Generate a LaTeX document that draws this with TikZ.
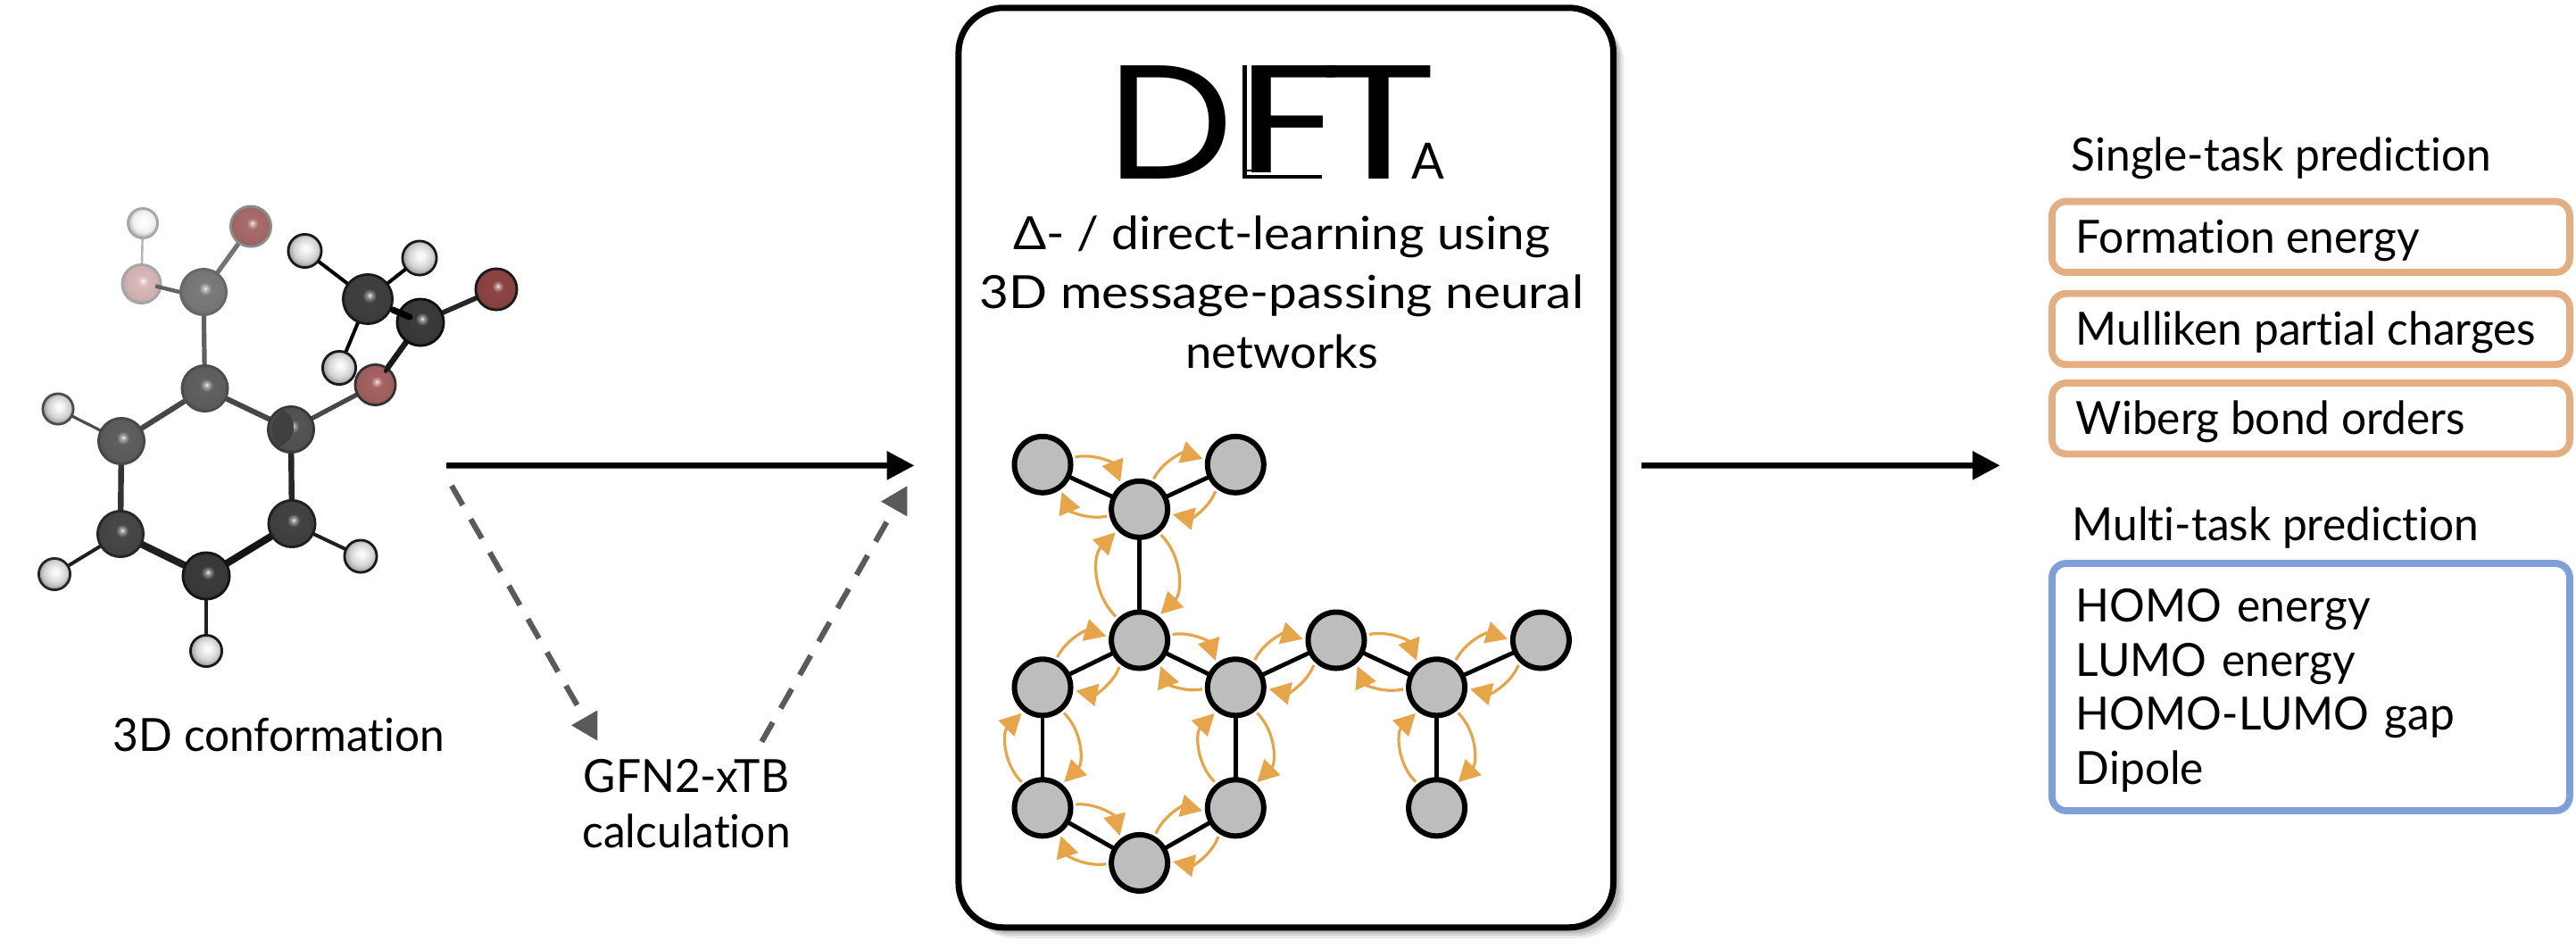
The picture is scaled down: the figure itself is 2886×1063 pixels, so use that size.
\documentclass[tikz,border=0pt]{standalone}
\usepackage{fontspec}
\setmainfont{Lato}[FakeStretch=0.97,Ligatures=NoCommon]
\newfontfamily\logofont{Poppins}
\usetikzlibrary{arrows.meta,shadows,shapes.geometric}
\pgfdeclarelayer{back}\pgfdeclarelayer{edges}\pgfdeclarelayer{front}
\pgfsetlayers{back,edges,main,front}
\colorlet{atomc}{gray}
\pgfdeclareradialshading[atomc]{atomball}{\pgfpoint{2bp}{4bp}}{%
  color(0bp)=(atomc!10!white); color(2.5bp)=(atomc!55!white); color(7bp)=(atomc);
  color(22bp)=(atomc!95!black); color(30bp)=(atomc!80!black); color(50bp)=(atomc!70!black)}
\pgfdeclareradialshading[atomc]{hball}{\pgfpoint{2bp}{4bp}}{%
  color(0bp)=(white); color(7bp)=(atomc!30!white); color(18bp)=(atomc); color(30bp)=(atomc!60!black); color(50bp)=(atomc!40!black)}
\definecolor{msgc}{HTML}{E6A54A}
\definecolor{nodeg}{HTML}{BDBDBD}
\definecolor{taskor}{HTML}{E3AE82}
\definecolor{taskbl}{HTML}{7F9FD9}
\definecolor{dashg}{HTML}{5A5A5A}
\definecolor{oxa}{HTML}{A86B6B}
\definecolor{oxb}{HTML}{D9B8B8}
\definecolor{oxc}{HTML}{A56262}
\definecolor{oxd}{HTML}{8C4444}
\tikzset{
  x=0.25pt,y=0.25pt,
  atom/.style n args={4}{circle,inner sep=0pt,minimum size=#3*0.5pt-0.7pt,draw=#2,line width=#4,
     /utils/exec={\colorlet{atomc}{#1}},shading=atomball},
  hatom/.style n args={4}{atom={#1}{#2}{#3}{#4},shading=hball},
  bondl/.style 2 args={draw=#1,line width=#2},
  gnode/.style={circle,fill=nodeg,draw=black,line width=1.5pt,minimum size=15.75pt,inner sep=0pt,outer sep=1.5pt},
  gedge/.style={draw=black,line width=1.2pt},
  msg/.style={draw=msgc,line width=0.8pt,-{Triangle[length=6pt,width=6.2pt,fill=msgc]}},
  mainarrow/.style={draw=black,line width=1.6pt,-{Triangle[length=7.7pt,width=7.7pt,fill=black]}},
  dasharrow/.style={draw=dashg,line width=1.55pt,dash pattern=on 6.25pt off 4.5pt,-{Triangle[length=7.5pt,width=8pt,fill=dashg]}},
  plain text/.style={inner sep=0pt,font=\fontsize{12.8}{16.7}\selectfont},
  taskbox/.style={draw=#1,line width=1.95pt,rounded corners=4pt,minimum width=145pt,inner ysep=0pt,inner xsep=6.75pt},
  singlebox/.style={taskbox=taskor,minimum height=19.85pt,text height=12pt,text depth=3pt,font=\fontsize{12.8}{15.1}\selectfont},
  multibox/.style={taskbox=taskbl,minimum height=69.25pt,text width=131.5pt,align=left,font=\fontsize{12.8}{15.1}\selectfont},
  bigbox/.style={draw=black,fill=white,line width=1.75pt,rounded corners=12.5pt,minimum width=183.4pt,minimum height=257.5pt,
     drop shadow={shadow xshift=0.9pt,shadow yshift=-0.9pt,opacity=0.14,fill=black},
     drop shadow={shadow xshift=1.6pt,shadow yshift=-1.6pt,opacity=0.12,fill=black},
     drop shadow={shadow xshift=2.3pt,shadow yshift=-2.3pt,opacity=0.10,fill=black},
     drop shadow={shadow xshift=3pt,shadow yshift=-3pt,opacity=0.08,fill=black}},
  logo/.style={inner sep=0pt,anchor=base west,font=\logofont\fontsize{45.5}{45.5}\selectfont},
}
\newcommand{\msgarc}[5]{\draw[msg] (#1.#3) to[bend left=#5] (#2.#4);}
\newcommand{\tasktext}[1]{\makebox[131.5pt][l]{#1}}
\begin{document}
\begin{tikzpicture}
\begin{pgfonlayer}{back}
\path[fill=white,use as bounding box] (0,0) rectangle (2886,-1063);
\end{pgfonlayer}

% ---------- molecule ----------
\node[hatom={black!6}{black!35}{18}{0.7pt}] (h1) at (160,-250) {};
\node[atom={oxa}{black!45}{24}{0.7pt}] (o1) at (281,-253.6) {};
\node[atom={oxb}{black!35}{23}{0.7pt}] (o2) at (158.5,-318) {};
\node[atom={black!52}{black!60}{27}{0.7pt}] (c1) at (228,-327) {};
\node[atom={black!62}{black!70}{27}{0.7pt}] (c2) at (229.5,-435) {};
\node[hatom={black!18}{black!70}{18.5}{0.7pt}] (h2) at (65,-458) {};
\node[atom={black!63}{black!72}{27}{0.7pt}] (c3) at (136,-494) {};
\node[atom={black!67}{black!78}{27}{0.7pt}] (c4) at (326,-481) {};
\node[atom={black!72}{black!85}{27}{0.7pt}] (c5) at (135,-598) {};
\node[atom={black!74}{black!88}{27.5}{0.7pt}] (c6) at (327,-586.5) {};
\node[atom={black!77}{black!92}{27.5}{0.7pt}] (c7) at (231,-645) {};
\node[hatom={black!18}{black!85}{19}{0.7pt}] (h3) at (61,-643) {};
\node[hatom={black!18}{black!90}{19.5}{0.7pt}] (h4) at (404,-623) {};
\node[hatom={black!18}{black!90}{19}{0.7pt}] (h5) at (231,-729) {};
\node[hatom={black!18}{black!90}{20}{0.7pt}] (h6) at (380,-412) {};
\node[atom={oxc}{black!80}{24}{0.7pt}] (o3) at (420.5,-431) {};
\node[atom={black!75}{black!90}{29}{0.7pt}] (c8) at (412,-335) {};
\node[atom={black!77}{black!95}{27.5}{0.7pt}] (c9) at (471,-361) {};
\node[hatom={black!18}{black!90}{20}{0.7pt}] (h7) at (341.5,-281) {};
\node[hatom={black!18}{black!90}{20.5}{0.7pt}] (h8) at (470,-289) {};
\node[atom={oxd}{black!90}{24.5}{0.7pt}] (o4) at (556,-324) {};

\begin{pgfonlayer}{edges}
  \draw[bondl={black!30}{0.6pt}] (h1.center)--(o2.center);
  \draw[bondl={black!55}{1.3pt}] (c1.center)--(o1.center);
  \draw[bondl={black!62}{1.3pt}] (c1.center)--(c2.center);
  \draw[bondl={black!72}{1.5pt}] (c2.center)--(c3.center);
  \draw[bondl={black!72}{1.5pt}] (c2.center)--(c4.center);
  \draw[bondl={black!70}{0.8pt}] (c3.center)--(h2.center);
  \draw[bondl={black!72}{1.3pt}] (c4.center)--(o3.center);
  \draw[bondl={black!80}{1.6pt}] (c3.center)--(c5.center);
  \draw[bondl={black!85}{1.6pt}] (c4.center)--(c6.center);
  \draw[bondl={black!88}{2pt}] (c5.center)--(c7.center);
  \draw[bondl={black!92}{2pt}] (c6.center)--(c7.center);
  \draw[bondl={black!88}{1pt}] (c5.center)--(h3.center);
  \draw[bondl={black!88}{1pt}] (c6.center)--(h4.center);
  \draw[bondl={black!88}{1pt}] (c7.center)--(h5.center);
  \draw[bondl={black!90}{1.6pt}] (o3.center)--(c9.center);
  \draw[bondl={black}{1pt}] (c8.center)--(h6.center);
  \draw[bondl={black}{1pt}] (c8.center)--(h7.center);
  \draw[bondl={black}{1pt}] (c8.center)--(h8.center);
  \draw[bondl={black!85}{1.4pt}] (c9.center)--(o4.center);
\end{pgfonlayer}
\begin{pgfonlayer}{front}
  \draw[bondl={black!62}{1.1pt}] (c1.west) -- ([shift={(3.9pt,-0.6pt)}]o2.center);
  \draw[bondl={black}{1.8pt},line cap=round] ([shift={(7pt,-3pt)}]c8.center) -- ([shift={(-3pt,1.5pt)}]c9.center);
  \draw[bondl={black!90}{1.2pt},line cap=round] ([shift={(2.9pt,3.9pt)}]o3.center) -- ([shift={(3.8pt,5pt)}]o3.center);
  \fill[black!75] (317,-459) .. controls (334,-468) and (334,-492) .. (312,-501)
     .. controls (301,-490) and (301,-468) .. (317,-459);
\end{pgfonlayer}

\node[plain text,anchor=base west] (conf) at (126,-841) {3D conformation};

% ---------- calculation ----------
\node[plain text,align=center,anchor=base,font=\fontsize{12.8}{15.3}\selectfont] (gfn) at (769,-949) {GFN2-xTB\\calculation};
\coordinate (molout) at (500,-521.3);
\coordinate (dashin) at (506,-544);
\coordinate (dashout) at (1016.5,-544);
\coordinate (predict) at (2240.7,-521.3);

% ---------- central box ----------
\begin{pgfonlayer}{back}
  \node[bigbox] (box) at (1440.7,-523.75) {};
\end{pgfonlayer}
\draw[mainarrow] (molout) -- ([shift={(-11.5pt,0.6pt)}]box.west);
\draw[mainarrow] ([shift={(7pt,0.6pt)}]box.east) -- (predict);
\draw[dasharrow] (dashin) -- ([shift={(4.5pt,5pt)}]gfn.north west);
\draw[dasharrow] ([shift={(-8.25pt,4.8pt)}]gfn.north east) -- (dashout);

% ---------- logo ----------
\node[logo] (logoD) at (1240,-200) {\scalebox{1.1}[1]{D}};
\node[logo] (logoF) at (1384,-200) {\scalebox{1.3}[1]{F}};
\node[logo] (logoT) at (1478,-200) {\scalebox{1.35}[1]{T}};
\node[inner sep=0pt,anchor=base west,font=\fontsize{14}{14}\selectfont] (logoA) at (1581,-200) {A};
\fill[white] (1395,-193) rectangle (1490,-205);
\draw[line width=1.1pt] (1394.5,-73) -- (1394.5,-198) -- (1481,-198);
\draw[line width=0.6pt] (1396,-191) -- (1418,-191);

\node[plain text,align=center,anchor=base] (title) at (1436,-412.7) {\scalebox{1.105}[1]{\symbol{"0394}- / direct-learning using}\\\scalebox{1.14}[1]{3D message-passing neural}\\\scalebox{1.06}[1]{networks}};

% ---------- message-passing graph ----------
\node[gnode] (n1) at (1168,-520.3) {};
\node[gnode] (n2) at (1384.3,-520.3) {};
\node[gnode] (n3) at (1276.6,-570.3) {};
\node[gnode] (n4) at (1276.6,-717) {};
\node[gnode] (n5) at (1168,-769.8) {};
\node[gnode] (n6) at (1384.3,-769.8) {};
\node[gnode] (n7) at (1168,-904.8) {};
\node[gnode] (n8) at (1384.3,-904.8) {};
\node[gnode] (n9) at (1276.6,-966.4) {};
\node[gnode] (n10) at (1497,-717) {};
\node[gnode] (n11) at (1609.6,-769.8) {};
\node[gnode] (n12) at (1726.4,-717) {};
\node[gnode] (n13) at (1609.6,-904.8) {};
\begin{pgfonlayer}{edges}
  \foreach \a/\b in {n1/n3,n2/n3,n3/n4,n4/n5,n4/n6,n5/n7,n6/n8,n7/n9,n8/n9,n6/n10,n10/n11,n11/n12,n11/n13}
    \draw[gedge] (\a.center) -- (\b.center);
\end{pgfonlayer}
\msgarc{n1}{n3}{13}{125}{40}
\msgarc{n3}{n1}{192}{305}{40}
\msgarc{n3}{n2}{65}{170}{40}
\msgarc{n2}{n3}{233}{351}{40}
\msgarc{n4}{n3}{135}{224}{45}
\msgarc{n3}{n4}{310}{51}{45}
\msgarc{n5}{n4}{64}{173}{40}
\msgarc{n4}{n5}{233}{354}{40}
\msgarc{n4}{n6}{10}{127}{40}
\msgarc{n6}{n4}{183}{309}{40}
\msgarc{n6}{n10}{55}{178}{40}
\msgarc{n10}{n6}{228}{357}{40}
\msgarc{n10}{n11}{10}{127}{40}
\msgarc{n11}{n10}{183}{309}{40}
\msgarc{n11}{n12}{55}{178}{40}
\msgarc{n12}{n11}{228}{357}{40}
\msgarc{n13}{n11}{129}{231}{45}
\msgarc{n11}{n13}{310}{50}{45}
\msgarc{n7}{n5}{129}{231}{45}
\msgarc{n5}{n7}{310}{50}{45}
\msgarc{n8}{n6}{129}{231}{45}
\msgarc{n6}{n8}{310}{50}{45}
\msgarc{n7}{n9}{6}{126}{40}
\msgarc{n9}{n7}{182}{303}{40}
\msgarc{n9}{n8}{61}{185}{40}
\msgarc{n8}{n9}{239}{2}{40}

% ---------- predictions ----------
\node[plain text,anchor=base west] (single) at (2319.8,-191.5) {Single-task prediction};
\node[singlebox] (t1) at (2588.9,-265.3) {\tasktext{Formation energy}};
\node[singlebox] (t2) at (2588.9,-368.5) {\tasktext{Mulliken partial charges}};
\node[singlebox] (t3) at (2588.9,-468.75) {\tasktext{Wiberg bond orders}};
\node[plain text,anchor=base west] (multi) at (2321,-605) {Multi-task prediction};
\node[multibox] (t4) at (2588.9,-769.5) {\rule{0pt}{11.2pt}HOMO energy\\LUMO energy\\HOMO-LUMO gap\\Dipole};
\end{tikzpicture}
\end{document}
